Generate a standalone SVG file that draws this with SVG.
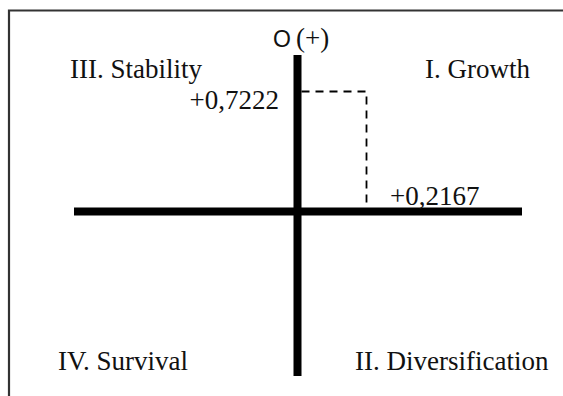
<svg xmlns="http://www.w3.org/2000/svg" width="563" height="396" viewBox="0 0 563 396">
<style>
.t{font-family:"Liberation Serif","Times New Roman",serif;font-size:27px;fill:#111}
.ax{stroke:#000;stroke-width:8;fill:none}
.dash{stroke:#000;stroke-width:1.8;stroke-dasharray:8 6;fill:none}
</style>
<rect width="563" height="396" fill="#fff"/>
<path d="M9 396 V10.5 H563" stroke="#333" stroke-width="2.2" fill="none"/>
<g id="connectors">
<line class="ax" x1="74" y1="211.5" x2="522" y2="211.5"/>
<line class="ax" x1="297.5" y1="55" x2="297.5" y2="376"/>
<path class="dash" d="M301.5 91.5 H366.5 V207.5"/>
</g>
<g id="origin"><text x="273" y="47" font-family="Liberation Sans,Arial,sans-serif" font-size="23" fill="#111">O</text><text class="t" x="296" y="47" font-size="24">(+)</text></g>
<g id="q3"><text class="t" x="70" y="78">III. Stability</text></g>
<g id="q1"><text class="t" x="425" y="78">I. Growth</text></g>
<g id="v1"><text class="t" x="279" y="109" text-anchor="end">+0,7222</text></g>
<g id="v2"><text class="t" x="390" y="205">+0,2167</text></g>
<g id="q4"><text class="t" x="58" y="370">IV. Survival</text></g>
<g id="q2"><text class="t" x="355" y="370">II. Diversification</text></g>
</svg>
